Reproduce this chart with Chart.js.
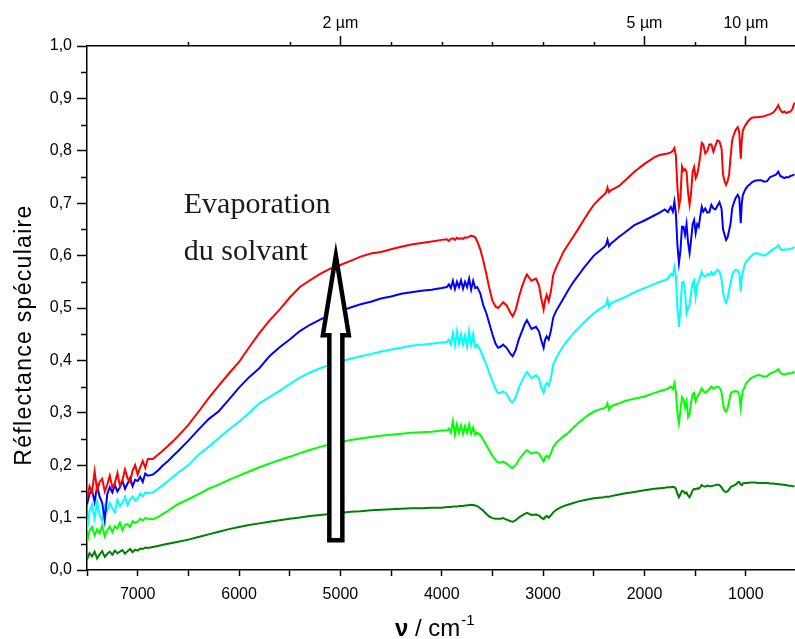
<!DOCTYPE html>
<html><head><meta charset="utf-8">
<script src="https://cdn.jsdelivr.net/npm/chart.js@4.4.0/dist/chart.umd.min.js"></script>
<style>html,body{margin:0;padding:0;background:#fff;overflow:hidden}#wrap{width:795px;height:639px;position:relative}</style>
</head><body><div id="wrap"><canvas id="c" width="795" height="639"></canvas></div>
<script>
// Wavenumber grid (cm-1), shared by all series
const wavenumbers = [
 7500,7475,7450,7425,7400,7375,7350,7325,7300,7275,
 7250,7225,7200,7175,7150,7125,7100,7075,7050,7025,
 7000,6975,6950,6925,6900,
 6850,6800,6750,6700,6650,6600,6500,6400,6300,6200,
 6100,6000,5900,5800,5700,5600,5500,5400,5300,5200,
 5100,5000,4900,4800,4700,4600,4500,4400,4300,4200,
 4100,4000,3950,3930,3910,3890,3870,3850,3830,3810,
 3790,3770,3750,3730,3710,3690,3670,3650,
 3620,3590,3560,3530,3500,3470,3445,3420,3395,3360,
 3320,3300,3270,3240,3210,3180,3160,3115,3070,3040,
 3020,2995,2980,2965,2945,2925,2900,2870,2840,2800,
 2750,2700,2650,2600,2550,2500,2450,2400,2380,2365,
 2350,2330,2300,2250,2200,2100,2000,1900,1850,1800,
 1770,1740,1720,1705,1690,1675,1660,1645,1630,1615,
 1600,1585,1570,1555,1540,1525,1510,1495,1480,1465,
 1450,1435,1420,1400,1380,1360,1340,1320,1300,1280,
 1260,1240,1225,1210,1195,1180,1165,1150,1135,1120,
 1100,1080,1065,1050,1040,1030,1015,1000,980,960,
 940,910,880,850,820,790,760,730,700,680,
 660,640,620,600,580,560,540,520
];

const red = [
 0.135,0.160,0.148,0.188,0.152,0.168,0.174,0.150,0.163,0.180,
 0.158,0.166,0.185,0.160,0.172,0.192,0.175,0.168,0.190,0.200,
 0.182,0.196,0.208,0.195,0.212,
 0.212,0.220,0.228,0.237,0.246,0.256,0.277,0.302,0.328,0.352,
 0.375,0.397,0.425,0.452,0.476,0.497,0.520,0.540,0.553,0.565,
 0.575,0.582,0.590,0.598,0.604,0.607,0.612,0.617,0.621,0.624,
 0.627,0.630,0.631,0.628,0.632,0.633,0.630,0.634,0.632,0.633,
 0.632,0.635,0.634,0.636,0.638,0.637,0.635,0.627,
 0.612,0.590,0.565,0.537,0.514,0.503,0.500,0.505,0.511,0.505,
 0.490,0.484,0.497,0.520,0.540,0.556,0.564,0.552,0.556,0.543,
 0.520,0.497,0.515,0.525,0.513,0.530,0.563,0.578,0.590,0.607,
 0.622,0.637,0.652,0.668,0.683,0.697,0.707,0.716,0.720,0.730,
 0.721,0.725,0.728,0.733,0.742,0.760,0.775,0.788,0.792,0.794,
 0.795,0.797,0.800,0.805,0.790,0.730,0.693,0.710,0.770,0.762,
 0.765,0.760,0.720,0.697,0.720,0.760,0.769,0.748,0.755,0.770,
 0.790,0.815,0.812,0.795,0.800,0.812,0.812,0.798,0.810,0.820,
 0.818,0.805,0.755,0.742,0.735,0.742,0.755,0.790,0.820,0.830,
 0.840,0.845,0.835,0.785,0.820,0.838,0.845,0.850,0.856,0.860,
 0.863,0.864,0.864,0.865,0.866,0.868,0.870,0.873,0.880,0.887,
 0.878,0.873,0.875,0.872,0.874,0.875,0.880,0.892
];

const blue = [
 0.125,0.145,0.152,0.130,0.160,0.140,0.128,0.095,0.145,0.158,
 0.148,0.162,0.150,0.158,0.170,0.155,0.165,0.176,0.160,0.172,
 0.170,0.178,0.168,0.184,0.180,
 0.182,0.190,0.200,0.208,0.218,0.227,0.247,0.268,0.288,0.303,
 0.325,0.348,0.368,0.385,0.408,0.425,0.440,0.456,0.468,0.478,
 0.487,0.494,0.501,0.507,0.512,0.518,0.522,0.527,0.530,0.533,
 0.535,0.538,0.540,0.545,0.538,0.552,0.536,0.550,0.540,0.553,
 0.537,0.550,0.540,0.556,0.535,0.552,0.538,0.540,
 0.528,0.505,0.490,0.470,0.450,0.432,0.424,0.426,0.430,0.424,
 0.412,0.408,0.420,0.440,0.455,0.470,0.477,0.460,0.464,0.455,
 0.440,0.424,0.440,0.446,0.440,0.455,0.482,0.495,0.505,0.518,
 0.535,0.550,0.563,0.576,0.588,0.600,0.608,0.616,0.620,0.630,
 0.618,0.623,0.628,0.636,0.643,0.658,0.667,0.677,0.682,0.688,
 0.683,0.693,0.684,0.703,0.680,0.620,0.586,0.610,0.655,0.655,
 0.640,0.660,0.625,0.605,0.630,0.660,0.668,0.643,0.660,0.655,
 0.675,0.693,0.684,0.690,0.682,0.683,0.697,0.690,0.688,0.695,
 0.702,0.690,0.650,0.640,0.630,0.635,0.648,0.662,0.690,0.700,
 0.710,0.716,0.710,0.662,0.700,0.715,0.722,0.728,0.733,0.736,
 0.740,0.743,0.744,0.744,0.741,0.742,0.750,0.752,0.755,0.760,
 0.752,0.750,0.748,0.750,0.749,0.752,0.753,0.755
];

const cyan = [
 0.075,0.112,0.125,0.098,0.130,0.105,0.094,0.122,0.112,0.128,
 0.118,0.110,0.134,0.122,0.128,0.140,0.124,0.135,0.140,0.132,
 0.136,0.146,0.140,0.148,0.147,
 0.148,0.155,0.162,0.170,0.178,0.186,0.200,0.220,0.235,0.252,
 0.268,0.283,0.300,0.318,0.330,0.342,0.355,0.367,0.377,0.385,
 0.392,0.398,0.403,0.408,0.412,0.417,0.421,0.424,0.428,0.430,
 0.432,0.434,0.435,0.440,0.430,0.452,0.428,0.455,0.432,0.450,
 0.430,0.448,0.427,0.456,0.430,0.450,0.425,0.430,
 0.420,0.405,0.392,0.375,0.360,0.346,0.338,0.338,0.341,0.336,
 0.322,0.320,0.330,0.348,0.360,0.372,0.378,0.366,0.372,0.365,
 0.350,0.338,0.352,0.357,0.352,0.365,0.392,0.405,0.415,0.428,
 0.440,0.452,0.462,0.472,0.481,0.490,0.497,0.503,0.506,0.516,
 0.502,0.509,0.512,0.516,0.520,0.530,0.538,0.546,0.550,0.553,
 0.556,0.565,0.562,0.578,0.560,0.500,0.464,0.500,0.548,0.550,
 0.530,0.490,0.500,0.505,0.530,0.548,0.553,0.521,0.545,0.550,
 0.560,0.569,0.562,0.560,0.565,0.562,0.569,0.563,0.568,0.573,
 0.570,0.555,0.530,0.518,0.510,0.518,0.535,0.548,0.562,0.570,
 0.573,0.572,0.568,0.531,0.560,0.567,0.580,0.588,0.592,0.597,
 0.600,0.605,0.604,0.602,0.600,0.603,0.608,0.612,0.616,0.620,
 0.613,0.610,0.612,0.611,0.612,0.613,0.614,0.617
];

const green = [
 0.052,0.075,0.082,0.066,0.078,0.070,0.085,0.064,0.076,0.083,
 0.072,0.084,0.079,0.090,0.076,0.086,0.088,0.082,0.093,0.090,
 0.092,0.098,0.094,0.099,0.098,
 0.097,0.101,0.107,0.113,0.120,0.126,0.135,0.145,0.155,0.163,
 0.172,0.180,0.188,0.196,0.203,0.210,0.216,0.223,0.229,0.235,
 0.240,0.244,0.248,0.251,0.254,0.256,0.258,0.260,0.262,0.263,
 0.264,0.266,0.266,0.270,0.262,0.284,0.258,0.278,0.262,0.276,
 0.260,0.275,0.262,0.278,0.260,0.272,0.258,0.262,
 0.258,0.248,0.238,0.228,0.218,0.210,0.205,0.205,0.207,0.203,
 0.196,0.195,0.200,0.210,0.218,0.225,0.229,0.222,0.225,0.222,
 0.215,0.207,0.215,0.218,0.214,0.222,0.235,0.243,0.248,0.255,
 0.262,0.272,0.281,0.289,0.296,0.302,0.306,0.309,0.311,0.318,
 0.306,0.312,0.315,0.318,0.322,0.327,0.331,0.338,0.341,0.344,
 0.346,0.350,0.345,0.356,0.340,0.300,0.280,0.305,0.330,0.325,
 0.310,0.322,0.292,0.298,0.320,0.335,0.338,0.322,0.330,0.335,
 0.340,0.347,0.342,0.338,0.342,0.345,0.350,0.346,0.348,0.350,
 0.348,0.340,0.318,0.305,0.302,0.308,0.322,0.336,0.340,0.340,
 0.342,0.340,0.335,0.309,0.330,0.342,0.348,0.355,0.360,0.364,
 0.367,0.370,0.372,0.371,0.369,0.370,0.375,0.377,0.380,0.383,
 0.377,0.374,0.373,0.374,0.376,0.375,0.376,0.379
];

const darkGreen = [
 0.020,0.032,0.026,0.035,0.022,0.030,0.036,0.025,0.031,0.035,
 0.029,0.037,0.032,0.035,0.038,0.031,0.036,0.040,0.034,0.039,
 0.037,0.041,0.040,0.043,0.042,
 0.044,0.046,0.048,0.050,0.052,0.054,0.058,0.063,0.068,0.073,
 0.078,0.082,0.086,0.089,0.092,0.095,0.098,0.100,0.103,0.105,
 0.107,0.109,0.111,0.112,0.114,0.115,0.116,0.117,0.118,0.118,
 0.119,0.119,0.120,0.120,0.120,0.121,0.121,0.121,0.122,0.122,
 0.122,0.123,0.123,0.124,0.124,0.124,0.123,0.122,
 0.118,0.113,0.107,0.102,0.099,0.098,0.098,0.098,0.099,0.096,
 0.093,0.092,0.095,0.100,0.104,0.107,0.109,0.105,0.106,0.104,
 0.100,0.097,0.101,0.103,0.100,0.104,0.110,0.115,0.118,0.122,
 0.125,0.128,0.131,0.133,0.135,0.137,0.138,0.139,0.140,0.140,
 0.140,0.141,0.142,0.144,0.146,0.149,0.152,0.155,0.156,0.157,
 0.158,0.158,0.159,0.158,0.155,0.145,0.139,0.145,0.151,0.150,
 0.146,0.148,0.142,0.139,0.145,0.152,0.155,0.154,0.156,0.155,
 0.158,0.162,0.160,0.159,0.161,0.160,0.160,0.161,0.162,0.163,
 0.162,0.158,0.153,0.150,0.149,0.150,0.154,0.158,0.160,0.161,
 0.163,0.167,0.168,0.163,0.162,0.165,0.166,0.166,0.166,0.167,
 0.167,0.167,0.166,0.166,0.166,0.166,0.165,0.165,0.164,0.164,
 0.163,0.163,0.162,0.162,0.161,0.161,0.160,0.160
];

// Axis ticks
const xTicks = [7500,7000,6500,6000,5500,5000,4500,4000,3500,3000,2500,2000,1500,1000];
const micronTicks = [2, 5, 10];
const topMinorTicks = [6500,5500,4500,4000,3500,3000,2500,1500];
const yMinorTicks = [0.05,0.15,0.25,0.35,0.45,0.55,0.65,0.75,0.85,0.95];

// Annotation (data coordinates)
const arrowAt = { x: 5045, top: 0.600, neck: 0.448, bottom: 0.057 };
const noteLines = [ { text: 'Evaporation', x: 6545, y: 0.681 }, { text: 'du solvant', x: 6545, y: 0.591 } ];

const series = [
  { label: 'a', values: red, color: '#ff0000' },
  { label: 'b', values: blue, color: '#0000ff' },
  { label: 'c', values: cyan, color: '#00ffff' },
  { label: 'd', values: green, color: '#00ff00' },
  { label: 'e', values: darkGreen, color: '#008000' }
];
series.forEach(s => { if (s.values.length !== wavenumbers.length) throw new Error('length mismatch ' + s.label + ': ' + s.values.length + ' vs ' + wavenumbers.length); });

const FONT = "'Liberation Sans', Arial, sans-serif";

const minorTicksPlugin = {
  id: 'minorTicks',
  afterDraw(chart) {
    const { ctx, scales } = chart;
    const y = scales.y, xt = scales.xTop;
    ctx.save();
    ctx.strokeStyle = '#000'; ctx.lineWidth = 1.5;
    yMinorTicks.forEach(v => {
      const py = Math.round(y.getPixelForValue(v)) + 0.5;
      ctx.beginPath(); ctx.moveTo(y.right - 6, py); ctx.lineTo(y.right, py); ctx.stroke();
    });
    topMinorTicks.forEach(v => {
      const px = Math.round(xt.getPixelForValue(v)) + 0.5;
      ctx.beginPath(); ctx.moveTo(px, xt.bottom); ctx.lineTo(px, xt.bottom - 4); ctx.stroke();
    });
    ctx.restore();
  }
};

const annotationPlugin = {
  id: 'annot',
  afterDatasetsDraw(chart) {
    const { ctx, scales } = chart;
    const x = scales.x, y = scales.y;
    ctx.save();
    // hollow arrow
    const cx = x.getPixelForValue(arrowAt.x);
    const tip = y.getPixelForValue(arrowAt.top);
    const neck = y.getPixelForValue(arrowAt.neck);
    const base = y.getPixelForValue(arrowAt.bottom);
    const hw = 13, sw = 6.5;
    ctx.beginPath();
    ctx.moveTo(cx, tip);
    ctx.lineTo(cx + hw, neck);
    ctx.lineTo(cx + sw, neck);
    ctx.lineTo(cx + sw, base);
    ctx.lineTo(cx - sw, base);
    ctx.lineTo(cx - sw, neck);
    ctx.lineTo(cx - hw, neck);
    ctx.closePath();
    ctx.fillStyle = '#fff'; ctx.fill();
    ctx.lineWidth = 4.5; ctx.strokeStyle = '#000'; ctx.lineJoin = 'miter'; ctx.miterLimit = 10;
    ctx.stroke();
    // note text
    ctx.fillStyle = '#1a1a1a';
    ctx.font = "30px 'Liberation Serif', 'DejaVu Serif', serif";
    ctx.textBaseline = 'alphabetic'; ctx.textAlign = 'left';
    noteLines.forEach(n => ctx.fillText(n.text, x.getPixelForValue(n.x), y.getPixelForValue(n.y)));
    ctx.restore();
  },
  afterDraw(chart) {
    const { ctx } = chart;
    ctx.save();
    ctx.fillStyle = '#000';
    ctx.textBaseline = 'alphabetic'; ctx.textAlign = 'left';
    // x title: ν / cm^-1
    let px = 395; const by = 636;
    ctx.font = "bold 24px " + FONT;
    ctx.fillText('ν', px, by); px += ctx.measureText('ν').width;
    ctx.font = "24px " + FONT;
    ctx.fillText(' / cm', px, by); px += ctx.measureText(' / cm').width;
    ctx.font = "15px " + FONT;
    ctx.fillText('-1', px + 1, by - 11);
    // y title
    ctx.translate(31, 335);
    ctx.rotate(-Math.PI / 2);
    ctx.font = "23px " + FONT;
    try { ctx.letterSpacing = '1.3px'; } catch (e) {}
    ctx.textAlign = 'center';
    ctx.fillText('Réflectance spéculaire', 0, 0);
    ctx.restore();
  }
};

const datasets = series.map(s => ({
  label: s.label,
  data: wavenumbers.map((w, i) => ({ x: w, y: s.values[i] })),
  borderColor: s.color,
  borderWidth: 2,
  pointRadius: 0,
  tension: 0,
  fill: false
}));

const tickFont = { family: FONT, size: 16 };

new Chart(document.getElementById('c'), {
  type: 'line',
  data: { datasets },
  options: {
    responsive: false,
    animation: false,
    events: [],
    layout: { padding: 0 },
    plugins: { legend: { display: false }, tooltip: { enabled: false } },
    scales: {
      x: {
        type: 'linear', position: 'bottom', reverse: true, min: 515, max: 7500,
        afterBuildTicks: s => { s.ticks = xTicks.map(v => ({ value: v })); },
        afterFit: s => { s.height = 69; },
        ticks: { autoSkip: false, maxRotation: 0, minRotation: 0, font: tickFont, color: '#000', padding: 9,
                 callback: v => (v % 1000 === 0 ? String(v) : '') },
        grid: { drawOnChartArea: false, drawTicks: true, tickLength: 6, tickColor: '#000', tickWidth: 1.5 },
        border: { display: true, color: '#000', width: 1.5 }
      },
      xTop: {
        type: 'linear', position: 'top', reverse: true, min: 515, max: 7500,
        afterBuildTicks: s => { s.ticks = micronTicks.map(m => ({ value: 10000 / m })); },
        afterFit: s => { s.height = 46; },
        ticks: { autoSkip: false, maxRotation: 0, minRotation: 0, font: tickFont, color: '#000', padding: 3,
                 callback: v => (Math.round(10000 / v)) + ' µm' },
        grid: { drawOnChartArea: false, drawTicks: true, tickLength: 10, tickColor: '#000', tickWidth: 1.5 },
        border: { display: true, color: '#000', width: 1.5 }
      },
      y: {
        type: 'linear', position: 'left', min: 0, max: 1,
        afterBuildTicks: s => { const t = []; for (let k = 0; k <= 10; k++) t.push({ value: k / 10 }); s.ticks = t; },
        afterFit: s => { s.width = 87; },
        ticks: { font: tickFont, color: '#000', padding: 5, callback: v => v.toFixed(1).replace('.', ',') },
        grid: { drawOnChartArea: false, drawTicks: true, tickLength: 10, tickColor: '#000', tickWidth: 1.5 },
        border: { display: true, color: '#000', width: 1.5 }
      }
    }
  },
  plugins: [minorTicksPlugin, annotationPlugin]
});
</script>
</body></html>
